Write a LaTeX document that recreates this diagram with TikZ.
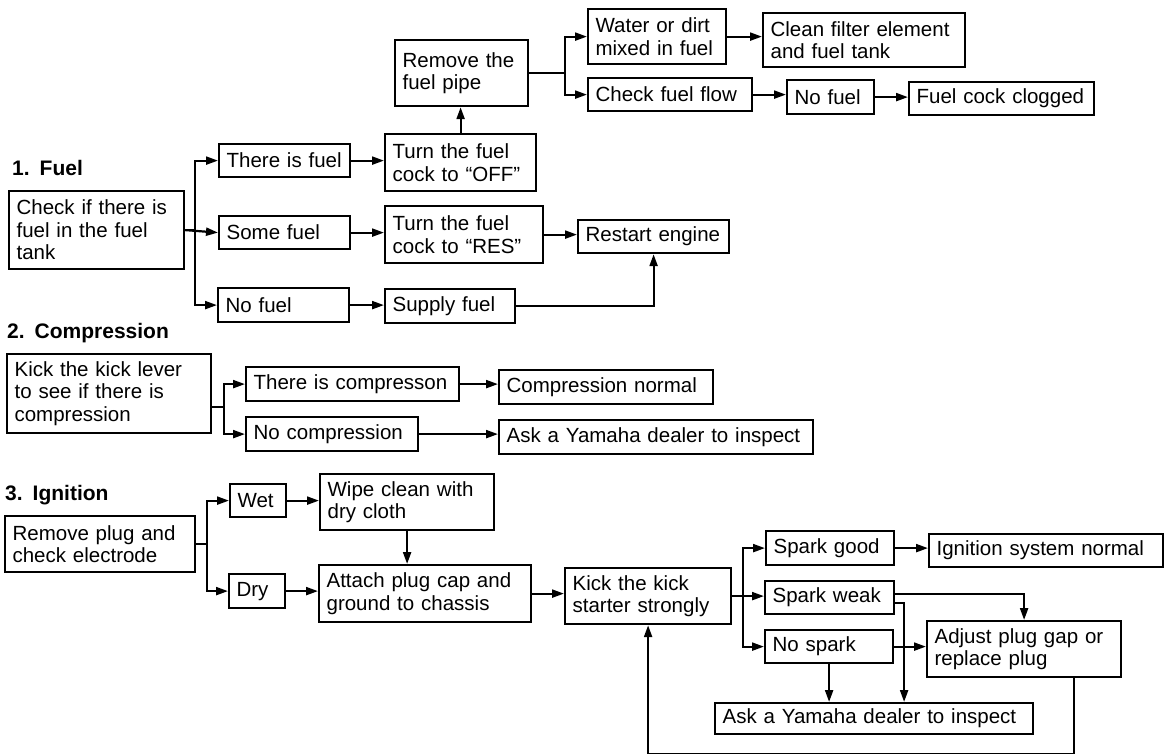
\documentclass[tikz,border=0pt]{standalone}
\usepackage{fontspec}
\setmainfont{Liberation Sans}
\usepackage{tikz}
\usetikzlibrary{arrows.meta, positioning, calc}
\tikzset{
  tsbox/.style={rectangle, draw, line width=2.2pt, anchor=north west,
                align=left, inner xsep=7.5pt, inner ysep=2pt,
                font=\fontsize{20.5}{22.5}\selectfont},
  tshead/.style={anchor=base west, inner sep=0pt,
                 font=\fontsize{21}{24}\selectfont\bfseries},
  tsarrow/.style={-{Triangle[length=12pt,width=8pt]}, line width=2.2pt},
}

\begin{document}
\begin{tikzpicture}[x=1pt, y=-1pt]
  \useasboundingbox (0,0) rectangle (1164,753);

  % 1. Fuel
  \node[tshead] (hfuel) at (12,175) {1.\hspace{10pt}Fuel};
  \node[tsbox, text width=160pt, minimum height=78pt] (fchk) at (8,190) {Check if there is\\fuel in the fuel\\tank};
  \node[tsbox, text width=116pt, minimum height=33pt] (fyes) at (218,143) {There is fuel};
  \node[tsbox, text width=116pt, minimum height=33pt] (fsome) at (218,215) {Some fuel};
  \node[tsbox, text width=116pt, minimum height=34pt] (fnone) at (217,287) {No fuel};
  \node[tsbox, text width=136pt, minimum height=57pt] (foff) at (384,133) {Turn the fuel\\cock to “OFF”};
  \node[tsbox, text width=143pt, minimum height=57pt] (fres) at (384,205) {Turn the fuel\\cock to “RES”};
  \node[tsbox, text width=115pt, minimum height=34pt] (fsup) at (384,288) {Supply fuel};
  \node[tsbox, text width=118pt, minimum height=66pt] (fpipe) at (394,39) {Remove the\\fuel pipe};
  \node[tsbox, text width=136pt, minimum height=33pt] (frst) at (577,219) {Restart engine};
  \node[tsbox, text width=123pt, minimum height=55pt] (fwat) at (587,8) {Water or dirt\\mixed in fuel};
  \node[tsbox, text width=149pt, minimum height=33pt] (fflow) at (587,77) {Check fuel flow};
  \node[tsbox, text width=187pt, minimum height=54pt] (fcln) at (762,12) {Clean filter element\\and fuel tank};
  \node[tsbox, text width=72pt, minimum height=34pt] (fno) at (786,79) {No fuel};
  \node[tsbox, text width=170pt, minimum height=33pt] (fclog) at (908,81) {Fuel cock clogged};

  \draw[tsarrow] (fchk.east) -- ++(10,0) |- (fyes.west);
  \draw[tsarrow] (fchk.east) -- (fsome.west);
  \draw[tsarrow] (fchk.east) -- ++(10,0) |- (fnone.west);
  \draw[tsarrow] (fyes.east) -- (fyes.east -| foff.west);
  \draw[tsarrow] (fsome.east) -- (fsome.east -| fres.west);
  \draw[tsarrow] (fnone.east) -- (fnone.east -| fsup.west);
  \draw[tsarrow] (foff.north) -- (foff.north |- fpipe.south);
  \draw[tsarrow] (fres.east) -- (fres.east -| frst.west);
  \draw[tsarrow] (fsup.east) -| (frst.south);
  \draw[tsarrow] (fpipe.east) -- ++(36,0) |- (fwat.west);
  \draw[tsarrow] (fpipe.east) -- ++(36,0) |- (fflow.west);
  \draw[tsarrow] (fwat.east) -- (fwat.east -| fcln.west);
  \draw[tsarrow] (fflow.east) -- (fflow.east -| fno.west);
  \draw[tsarrow] (fno.east) -- (fno.east -| fclog.west);

  % 2. Compression
  \node[tshead] (hcomp) at (7,338) {2.\hspace{10pt}Compression};
  \node[tsbox, text width=189pt, minimum height=79pt] (cchk) at (6,353) {Kick the kick lever\\to see if there is\\compression};
  \node[tsbox, text width=198pt, minimum height=34pt] (cyes) at (245,366) {There is compresson};
  \node[tsbox, text width=157pt, minimum height=34pt] (cno) at (245,416) {No compression};
  \node[tsbox, text width=199pt, minimum height=34pt] (cok) at (498,369) {Compression normal};
  \node[tsbox, text width=299pt, minimum height=34pt] (cask) at (498,419) {Ask a Yamaha dealer to inspect};

  \draw[tsarrow] ([yshift=-13pt]cchk.east) -- ++(12,0) |- (cyes.west);
  \draw[tsarrow] ([yshift=-13pt]cchk.east) -- ++(12,0) |- (cno.west);
  \draw[tsarrow] (cyes.east) -- (cyes.east -| cok.west);
  \draw[tsarrow] (cno.east) -- (cno.east -| cask.west);

  % 3. Ignition
  \node[tshead] (hign) at (5,500) {3.\hspace{10pt}Ignition};
  \node[tsbox, text width=175pt, minimum height=56pt] (iplug) at (4,515) {Remove plug and\\check electrode};
  \node[tsbox, text width=41pt, minimum height=33pt] (iwet) at (229,483) {Wet};
  \node[tsbox, text width=41pt, minimum height=34pt] (idry) at (228,573) {Dry};
  \node[tsbox, text width=159pt, minimum height=56pt] (iwipe) at (319,473) {Wipe clean with\\dry cloth};
  \node[tsbox, text width=197pt, minimum height=57pt] (iatt) at (318,564) {Attach plug cap and\\ground to chassis};
  \node[tsbox, text width=151pt, minimum height=56pt] (ikick) at (564,567) {Kick the kick\\starter strongly};
  \node[tsbox, text width=113pt, minimum height=34pt] (igood) at (765,530) {Spark good};
  \node[tsbox, text width=114pt, minimum height=33pt] (iweak) at (764,580) {Spark weak};
  \node[tsbox, text width=113pt, minimum height=33pt] (inone) at (764,629) {No spark};
  \node[tsbox, text width=219pt, minimum height=33pt] (inorm) at (928,533) {Ignition system normal};
  \node[tsbox, text width=179pt, minimum height=56pt] (iadj) at (926,620) {Adjust plug gap or\\replace plug};
  \node[tsbox, text width=303pt, minimum height=31pt] (iask) at (714,702) {Ask a Yamaha dealer to inspect};

  \draw[tsarrow] (iplug.east) -- ++(11,0) |- (iwet.west);
  \draw[tsarrow] (iplug.east) -- ++(11,0) |- (idry.west);
  \draw[tsarrow] (iwet.east) -- (iwet.east -| iwipe.west);
  \draw[tsarrow] (idry.east) -- (idry.east -| iatt.west);
  \draw[tsarrow] (iwipe.south) -- (iwipe.south |- iatt.north);
  \draw[tsarrow] (iatt.east) -- (iatt.east -| ikick.west);
  \draw[tsarrow] (ikick.east) -- ++(11,0) |- (igood.west);
  \draw[tsarrow] (ikick.east) -- (ikick.east -| iweak.west);
  \draw[tsarrow] (ikick.east) -- ++(11,0) |- (inone.west);
  \draw[tsarrow] (igood.east) -- (igood.east -| inorm.west);
  \draw[tsarrow] ([yshift=4pt]iweak.east) -| (iadj.north);
  \draw[tsarrow] ([yshift=-5pt]iweak.east) -| ([xshift=30pt]iask.north);
  \draw[tsarrow] (inone.east) -- (inone.east -| iadj.west);
  \draw[tsarrow] (inone.south) -- (inone.south |- iask.north);
  \draw[tsarrow] ([xshift=50pt]iadj.south) -- ++(0,76) -| (ikick.south);
\end{tikzpicture}
\end{document}
